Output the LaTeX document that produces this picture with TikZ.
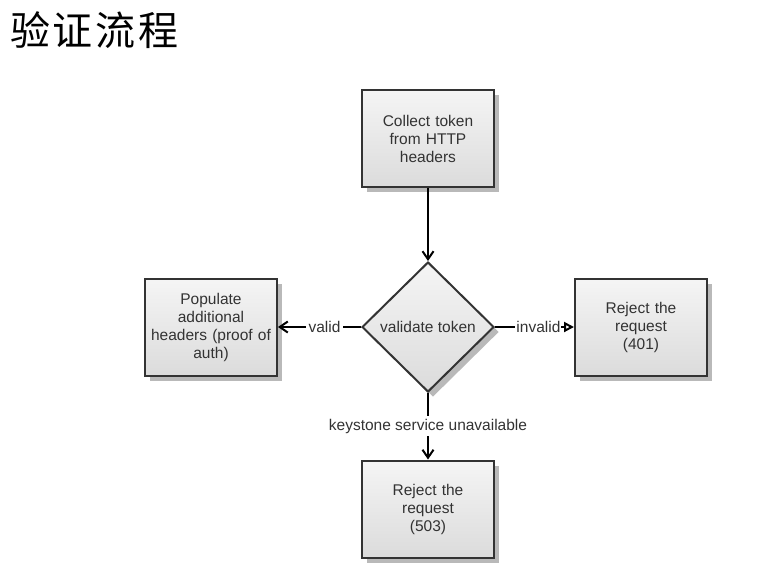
\documentclass[tikz,border=0pt]{standalone}
\usepackage{fontspec}
\setmainfont{Liberation Sans}
\newfontfamily\cjk[LetterSpace=7]{Noto Sans CJK SC}
\usetikzlibrary{shapes.geometric,shadows,arrows.meta}
\definecolor{txt}{HTML}{333333}
\definecolor{edge}{HTML}{333333}
\tikzset{
  flowbox/.style={draw=edge, line width=2pt, top color=gray!8, bottom color=gray!28,
    minimum width=132pt, minimum height=97pt, inner sep=1pt, align=center,
    text width=130pt, font=\fontsize{15.5}{18}\selectfont, text=txt,
    drop shadow={shadow xshift=5pt, shadow yshift=-5pt, fill=gray!55, opacity=1}},
  decision/.style={diamond, draw=edge, line width=2pt, top color=gray!8, bottom color=gray!28,
    minimum width=132pt, minimum height=130pt, inner sep=0pt, align=center,
    font=\fontsize{15.5}{18}\selectfont, text=txt,
    drop shadow={shadow xshift=5pt, shadow yshift=-5pt, fill=gray!55, opacity=1}},
  conn/.style={line width=2pt, draw=black},
  lbl/.style={fill=white, inner sep=3pt, font=\fontsize{15.5}{18}\selectfont, text=txt},
}
\begin{document}
\begin{tikzpicture}[x=1pt,y=-1pt]
\useasboundingbox (0,0) rectangle (779,574);
\node[anchor=west, font=\cjk\fontsize{40}{44}\selectfont, inner sep=0pt] (title) at (10,30) {验证流程};
\node[flowbox] (collect) at (428,138.5) {Collect token\\from HTTP\\headers};
\node[decision] (validate) at (428,327) {validate token};
\node[flowbox] (populate) at (211,327) {Populate\\additional\\headers (proof of\\auth)};
\node[flowbox] (r401) at (641,327) {Reject the\\request\\(401)};
\node[flowbox] (r503) at (428,509) {Reject the\\request\\(503)};
\draw[conn, -{Straight Barb[length=8pt,width=11pt]}] (collect) -- (validate);
\draw[conn, -{Straight Barb[length=8pt,width=11pt]}] (validate.west) -- node[lbl, pos=0.44]{valid} (populate.east);
\draw[conn, -{Triangle[open,length=10pt,width=10pt,line width=2pt]}] (validate.east) -- node[lbl, pos=0.55, inner sep=1pt]{invalid} (r401.west);
\draw[conn, -{Straight Barb[length=8pt,width=11pt]}] (validate.south) -- node[lbl, pos=0.5]{keystone service unavailable} (r503.north);
\end{tikzpicture}
\end{document}
